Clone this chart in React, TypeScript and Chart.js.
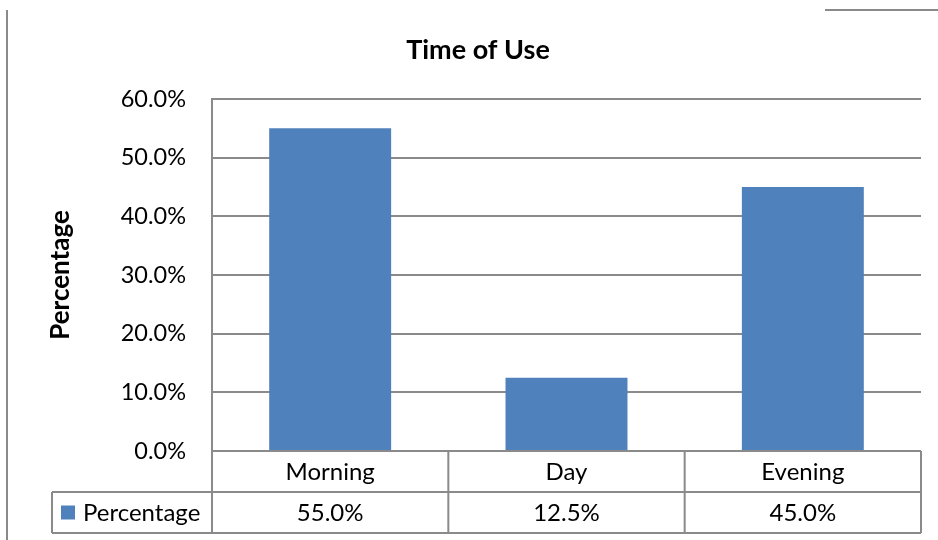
import { useEffect, useRef } from "react";
import { Chart, registerables } from "chart.js";

Chart.register(...registerables);

// Chart content
const chartTitle = "Time of Use";
const yAxisTitle = "Percentage";
const seriesName = "Percentage";
const categories = ["Morning", "Day", "Evening"];
const values = [55.0, 12.5, 45.0];
const yTicks = [0, 10, 20, 30, 40, 50, 60];

const FONT = "Lato, 'Open Sans', sans-serif";
const GRID = "#8a8a8a";
const BAR = "#4F81BD";
const TEXT = "#000000";

const fmt = (v: number) => v.toFixed(1) + "%";

// Outer frame fragments of the chart object
const framePlugin = {
  id: "frame",
  beforeDraw(chart: any) {
    const { ctx, width, height } = chart;
    ctx.save();
    ctx.strokeStyle = GRID;
    ctx.lineWidth = 2;
    ctx.beginPath();
    ctx.moveTo(7, 10);
    ctx.lineTo(7, height);
    ctx.moveTo(825, 10);
    ctx.lineTo(width, 10);
    ctx.stroke();
    ctx.restore();
  },
};

// Data table drawn under the plot: category row, then the series row with a legend key
const dataTablePlugin = {
  id: "dataTable",
  afterDraw(chart: any) {
    const { ctx, chartArea } = chart;
    const xs = chart.scales.x;
    const n = categories.length;
    const step = n > 1 ? xs.getPixelForValue(1) - xs.getPixelForValue(0) : chartArea.right - chartArea.left;
    const left = chartArea.left;
    const right = chartArea.right;
    const top = chartArea.bottom;
    const rowH = 41;
    const mid = top + rowH;
    const bottom = top + rowH * 2;
    const keyLeft = 52;

    ctx.save();
    ctx.strokeStyle = GRID;
    ctx.lineWidth = 2;
    ctx.beginPath();
    // horizontal rules
    ctx.moveTo(left, top);
    ctx.lineTo(right, top);
    ctx.moveTo(keyLeft, mid);
    ctx.lineTo(right, mid);
    ctx.moveTo(keyLeft, bottom);
    ctx.lineTo(right, bottom);
    // vertical rules
    ctx.moveTo(keyLeft, mid);
    ctx.lineTo(keyLeft, bottom);
    for (let i = 0; i <= n; i++) {
      const x = i < n ? xs.getPixelForValue(i) - step / 2 : right;
      ctx.moveTo(x, top);
      ctx.lineTo(x, bottom);
    }
    ctx.stroke();

    ctx.fillStyle = TEXT;
    ctx.font = `24px ${FONT}`;
    ctx.textAlign = "center";
    ctx.textBaseline = "middle";
    categories.forEach((c, i) => {
      const cx = xs.getPixelForValue(i);
      ctx.fillText(c, cx, top + rowH / 2 + 1);
      ctx.fillText(fmt(values[i]), cx, mid + rowH / 2 + 1);
    });

    // legend key
    ctx.fillStyle = BAR;
    ctx.fillRect(61, mid + rowH / 2 - 7, 14, 14);
    ctx.fillStyle = TEXT;
    ctx.textAlign = "left";
    ctx.fillText(seriesName, 83, mid + rowH / 2 + 1);
    ctx.restore();
  },
};

export default function App() {
  const canvasRef = useRef<HTMLCanvasElement | null>(null);

  useEffect(() => {
    document.body.style.margin = "0";
    const canvas = canvasRef.current;
    if (!canvas) return;
    const chart = new Chart(canvas, {
      type: "bar",
      data: {
        labels: categories,
        datasets: [
          {
            label: seriesName,
            data: values,
            backgroundColor: BAR,
            borderWidth: 0,
            categoryPercentage: 1,
            barPercentage: 0.516,
          },
        ],
      },
      options: {
        responsive: false,
        animation: false,
        layout: { padding: { left: 35, right: 17, top: 0, bottom: 7 } },
        plugins: {
          legend: { display: false },
          tooltip: { enabled: false },
          title: {
            display: true,
            text: chartTitle,
            color: TEXT,
            font: { family: FONT, size: 27, weight: "bold" },
            padding: { top: 34, bottom: 32.6 },
          },
        },
        scales: {
          x: {
            type: "category",
            ticks: { display: false },
            grid: { display: false, drawTicks: false },
            border: { display: false },
            afterFit: (s: any) => {
              s.height = 82;
            },
          },
          y: {
            min: 0,
            max: 60,
            afterBuildTicks: (s: any) => {
              s.ticks = yTicks.map((v) => ({ value: v }));
            },
            ticks: {
              padding: 26,
              color: TEXT,
              font: { family: FONT, size: 23.5 },
              callback: (v: any) => fmt(Number(v)),
            },
            grid: { color: GRID, lineWidth: 2, drawTicks: false },
            border: { display: true, color: GRID, width: 2 },
            title: {
              display: true,
              text: yAxisTitle,
              color: TEXT,
              font: { family: FONT, size: 26, weight: "bold" },
              padding: { top: 10, bottom: 0 },
            },
            afterFit: (s: any) => {
              s.width = 177;
            },
          },
        },
      },
      plugins: [framePlugin, dataTablePlugin],
    });
    return () => chart.destroy();
  }, []);

  return <canvas ref={canvasRef} width={938} height={540} />;
}
